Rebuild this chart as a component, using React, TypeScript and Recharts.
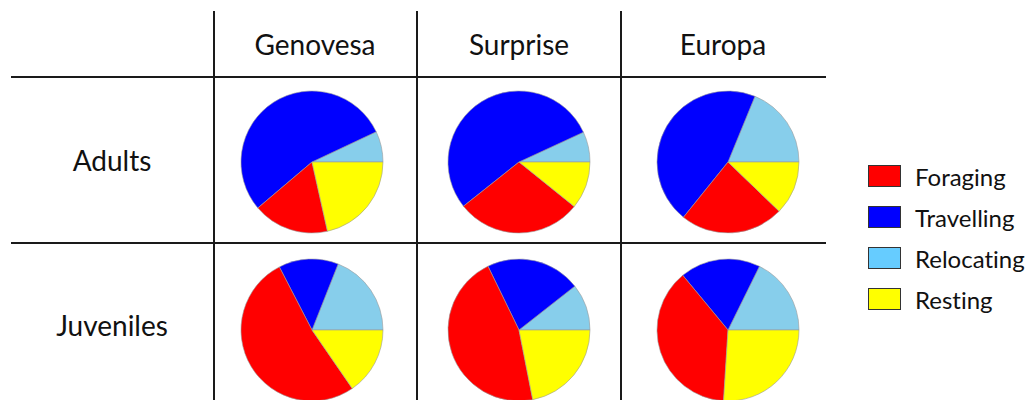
import { PieChart, Pie, Cell } from 'recharts'

// activity budgets (% of time)
const behaviours = ['Relocating', 'Travelling', 'Foraging', 'Resting']
const islands = ['Genovesa', 'Surprise', 'Europa']
const ageGroups = ['Adults', 'Juveniles']

const genovesaAdults = [7.0, 54.2, 17.3, 21.5]
const surpriseAdults = [6.9, 53.8, 28.5, 10.8]
const europaAdults = [18.8, 45.4, 23.6, 12.2]
const genovesaJuveniles = [19.0, 13.6, 52.0, 15.4]
const surpriseJuveniles = [10.6, 21.6, 45.9, 21.9]
const europaJuveniles = [17.7, 18.3, 38.0, 26.0]

const legendOrder = ['Foraging', 'Travelling', 'Relocating', 'Resting']

const sliceColor: Record<string, string> = {
  Foraging: '#ff0000',
  Travelling: '#0000ff',
  Relocating: '#87ceeb',
  Resting: '#ffff00',
}
const legendColor: Record<string, string> = {
  Foraging: '#ff0000',
  Travelling: '#0000ff',
  Relocating: '#66ccff',
  Resting: '#ffff00',
}

const grid = [
  [genovesaAdults, surpriseAdults, europaAdults],
  [genovesaJuveniles, surpriseJuveniles, europaJuveniles],
]

const vLines = [214, 417, 621]
const hLines = [76, 242]
const headerCenters = [315, 519, 723]
const pieCenters = [312, 519, 728]
const rowCenters = [162, 330]
const FONT = 'Lato, "Open Sans", sans-serif'
const LINE = '#1a1a1a'

function CellPie({ values, cx, cy }: { values: number[]; cx: number; cy: number }) {
  const data = behaviours.map((b, i) => ({ name: b, value: values[i] }))
  return (
    <div style={{ position: 'absolute', left: cx - 80, top: cy - 80, width: 160, height: 160 }}>
      <PieChart width={160} height={160} margin={{ top: 0, right: 0, bottom: 0, left: 0 }}>
        <Pie data={data} dataKey="value" cx={80} cy={80} outerRadius={71}
          startAngle={0} endAngle={360} isAnimationActive={false} stroke="#9a9a9a" strokeWidth={0.6}>
          {data.map(d => <Cell key={d.name} fill={sliceColor[d.name]} />)}
        </Pie>
      </PieChart>
    </div>
  )
}

export default function App() {
  const label = {
    position: 'absolute' as const, fontFamily: FONT, fontSize: 28, color: '#111',
    textAlign: 'center' as const, lineHeight: '34px', fontVariantLigatures: 'none' as const,
  }
  return (
    <div style={{ position: 'absolute', left: 0, top: 0, width: 1031, height: 400, overflow: 'hidden', background: '#fff' }}>
      {/* table lines */}
      {vLines.map(x => (
        <div key={x} style={{ position: 'absolute', left: x - 1, top: 11, width: 2, height: 400, background: LINE }} />
      ))}
      {hLines.map(y => (
        <div key={y} style={{ position: 'absolute', left: 11, top: y, width: 815, height: 2, background: LINE }} />
      ))}

      {islands.map((name, i) => (
        <div key={name} style={{ ...label, left: headerCenters[i] - 90, width: 180, top: 27 }}>{name}</div>
      ))}
      {ageGroups.map((name, i) => (
        <div key={name} style={{ ...label, left: 22, width: 180, top: i === 0 ? 143 : 308 }}>{name}</div>
      ))}

      {grid.map((row, r) => row.map((vals, c) => (
        <CellPie key={`${r}-${c}`} values={vals} cx={pieCenters[c]} cy={rowCenters[r]} />
      )))}

      {/* legend */}
      {legendOrder.map((name, i) => (
        <div key={name} style={{ position: 'absolute', left: 868, top: 165 + i * 41, height: 22, display: 'flex', alignItems: 'center' }}>
          <div style={{ width: 31, height: 20, background: legendColor[name], border: '1px solid #333' }} />
          <span style={{ marginLeft: 14, fontFamily: FONT, fontSize: 24, color: '#111', fontVariantLigatures: 'none' }}>{name}</span>
        </div>
      ))}
    </div>
  )
}
